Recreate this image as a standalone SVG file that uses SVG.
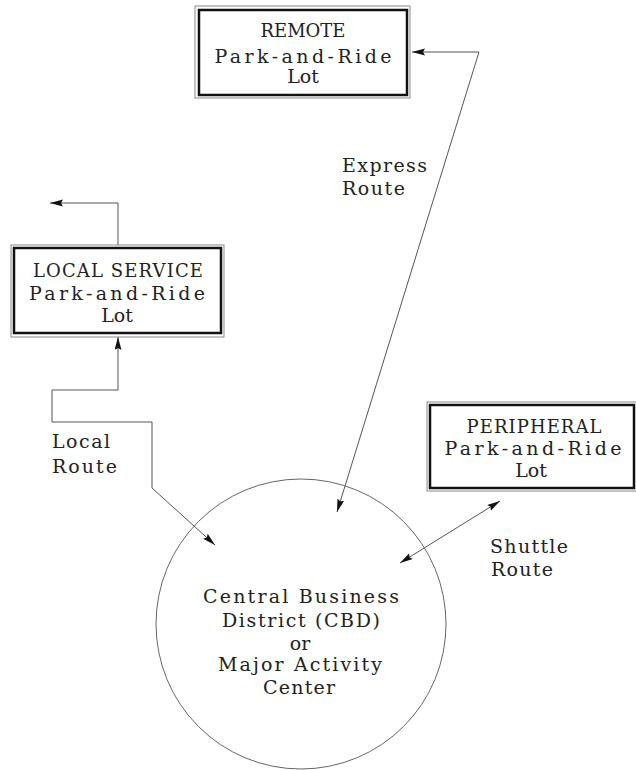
<svg xmlns="http://www.w3.org/2000/svg" width="636" height="770" viewBox="0 0 636 770">
<style>
text{font-family:"DejaVu Serif","Liberation Serif",serif;font-size:19px;fill:#222;}
.c{text-anchor:middle;}
.cap{font-size:18px;}
.outer{fill:none;stroke:#888;stroke-width:1;}
.inner{fill:#fff;stroke:#111;stroke-width:2.5;}
.ln{fill:none;stroke:#555;stroke-width:1;}
</style>
<defs>
<marker id="ah" markerUnits="userSpaceOnUse" markerWidth="14" markerHeight="8" refX="13" refY="3.5" orient="auto-start-reverse">
<path d="M0,0 L13,3.5 L0,7 L2,3.5 z" fill="#111"/>
</marker>
</defs>
<rect width="636" height="770" fill="#fff"/>
<g id="connectors">
<path class="ln" d="M412,52 L479,52 L337,512" marker-start="url(#ah)" marker-end="url(#ah)"/>
<path class="ln" d="M118,245 L118,203 L50,203" marker-end="url(#ah)"/>
<path class="ln" d="M118,337 L118,390 L52,390 L52,422 L152,422 L152,488 L215,545" marker-start="url(#ah)" marker-end="url(#ah)"/>
<path class="ln" d="M500,501 L400,563" marker-start="url(#ah)" marker-end="url(#ah)"/>
</g>
<g id="remote">
<rect class="outer" x="195" y="6" width="215" height="92"/>
<rect class="inner" x="199" y="10" width="208" height="85"/>
<text class="c cap" x="303" y="37" textLength="85" lengthAdjust="spacing">REMOTE</text>
<text class="c" x="303" y="63" textLength="177" lengthAdjust="spacing">Park-and-Ride</text>
<text class="c" x="303" y="83">Lot</text>
</g>
<g id="local-service">
<rect class="outer" x="11" y="245" width="213" height="92"/>
<rect class="inner" x="14" y="248" width="207" height="85"/>
<text class="c cap" x="118" y="277" textLength="170" lengthAdjust="spacing">LOCAL SERVICE</text>
<text class="c" x="117" y="300" textLength="176" lengthAdjust="spacing">Park-and-Ride</text>
<text class="c" x="117" y="322">Lot</text>
</g>
<g id="peripheral">
<rect class="outer" x="427" y="402" width="212" height="89"/>
<rect class="inner" x="430" y="405" width="204" height="83"/>
<text class="c cap" x="534" y="433" textLength="135" lengthAdjust="spacing">PERIPHERAL</text>
<text class="c" x="533" y="455" textLength="177" lengthAdjust="spacing">Park-and-Ride</text>
<text class="c" x="531" y="477">Lot</text>
</g>
<g id="cbd">
<circle cx="301" cy="624" r="145" fill="none" stroke="#666" stroke-width="1"/>
<text class="c" x="301" y="603" textLength="196" lengthAdjust="spacing">Central Business</text>
<text class="c" x="301" y="627" textLength="158" lengthAdjust="spacing">District (CBD)</text>
<text class="c" x="300" y="650">or</text>
<text class="c" x="300" y="671" textLength="164" lengthAdjust="spacing">Major Activity</text>
<text class="c" x="299" y="694" textLength="72" lengthAdjust="spacing">Center</text>
</g>
<g id="labels">
<text x="342" y="172" textLength="85" lengthAdjust="spacing">Express</text>
<text x="342" y="195" textLength="63" lengthAdjust="spacing">Route</text>
<text x="52" y="448" textLength="58" lengthAdjust="spacing">Local</text>
<text x="52" y="473" textLength="65" lengthAdjust="spacing">Route</text>
<text x="490" y="553" textLength="78" lengthAdjust="spacing">Shuttle</text>
<text x="491" y="576" textLength="62" lengthAdjust="spacing">Route</text>
</g>
</svg>
